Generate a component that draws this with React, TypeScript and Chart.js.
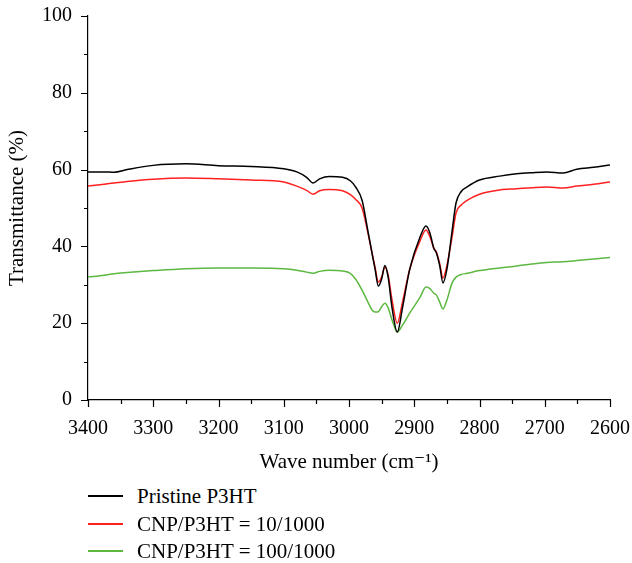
import React, { useEffect, useRef } from "react";
import { Chart, registerables } from "chart.js";

Chart.register(...registerables);

const wavenumbers = [3400, 3375, 3360, 3340, 3300, 3250, 3200, 3150, 3100, 3080, 3065, 3055, 3045, 3030, 3010, 2998, 2990, 2980, 2971, 2965, 2960, 2955, 2950, 2945, 2940, 2934, 2926, 2918, 2907, 2891, 2882, 2876, 2870, 2866, 2861, 2856, 2850, 2842, 2836, 2828, 2819, 2800, 2769, 2743, 2720, 2697, 2672, 2651, 2625, 2600];

const pristine = [59.4, 59.4, 59.3, 60.0, 61.1, 61.5, 61.0, 60.8, 60.2, 59.4, 58.0, 56.5, 57.6, 58.2, 58.0, 57.1, 55.5, 52.0, 44.0, 38.5, 34.0, 29.7, 31.5, 35.0, 32.0, 24.0, 17.7, 24.0, 34.0, 42.5, 45.3, 43.5, 39.5, 38.3, 35.0, 30.5, 34.0, 44.0, 51.3, 54.3, 55.5, 57.3, 58.3, 58.9, 59.2, 59.4, 59.1, 60.1, 60.6, 61.2];

const cnp10 = [55.7, 56.2, 56.5, 56.9, 57.5, 57.8, 57.6, 57.3, 56.8, 55.7, 54.6, 53.6, 54.5, 54.8, 54.5, 53.5, 52.3, 50.0, 43.5, 38.5, 34.5, 30.7, 32.0, 34.6, 32.5, 26.0, 20.0, 25.5, 34.0, 41.5, 44.3, 42.5, 39.5, 38.5, 35.5, 31.8, 35.0, 42.5, 48.7, 50.8, 52.0, 53.6, 54.7, 55.0, 55.3, 55.5, 55.2, 55.7, 56.2, 56.8];

const cnp100 = [32.0, 32.5, 32.9, 33.2, 33.7, 34.2, 34.4, 34.4, 34.2, 33.8, 33.3, 33.0, 33.5, 33.8, 33.6, 33.0, 31.5, 28.6, 25.5, 23.5, 22.9, 23.0, 24.3, 25.2, 24.0, 20.8, 17.7, 19.5, 22.6, 26.8, 29.4, 29.0, 27.8, 27.3, 25.5, 23.7, 26.0, 30.5, 32.0, 32.7, 33.0, 33.7, 34.4, 34.9, 35.4, 35.8, 36.0, 36.3, 36.7, 37.1];

const seriesLabels = ["Pristine P3HT", "CNP/P3HT = 10/1000", "CNP/P3HT = 100/1000"];
const seriesColors = ["#000000", "#ff2020", "#5cb840"];
const seriesValues = [pristine, cnp10, cnp100];

const FONT = "'Liberation Serif', 'DejaVu Serif', serif";

const tickPlugin = {
  id: "customTicks",
  afterDraw(chart: any) {
    const ctx = chart.ctx;
    const xs = chart.scales.x;
    const ys = chart.scales.y;
    const area = chart.chartArea;
    ctx.save();
    ctx.strokeStyle = "#000";
    ctx.lineWidth = 1.2;
    ctx.beginPath();
    for (let v = 0; v <= 100; v += 10) {
      const y = Math.round(ys.getPixelForValue(v)) + 0.5;
      const len = v % 20 === 0 ? 7 : 4;
      ctx.moveTo(area.left - len, y);
      ctx.lineTo(area.left, y);
    }
    for (let v = 2600; v <= 3400; v += 50) {
      const x = Math.round(xs.getPixelForValue(v)) + 0.5;
      const len = v % 100 === 0 ? 7 : 4;
      ctx.moveTo(x, area.bottom);
      ctx.lineTo(x, area.bottom + len);
    }
    ctx.stroke();
    ctx.restore();
  },
};

export default function App() {
  const ref = useRef<HTMLCanvasElement>(null);
  useEffect(() => {
    if (!ref.current) return;
    const chart = new Chart(ref.current, {
      type: "line",
      data: {
        datasets: seriesValues.map((vals, i) => ({
          label: seriesLabels[i],
          data: wavenumbers.map((w, j) => ({ x: w, y: vals[j] })),
          borderColor: seriesColors[i],
          borderWidth: 1.5,
          pointRadius: 0,
          fill: false,
          cubicInterpolationMode: "monotone" as const,
        })),
      },
      options: {
        animation: false,
        responsive: false,
        maintainAspectRatio: false,
        layout: { padding: { left: 0, right: 22, top: 16, bottom: 0 } },
        plugins: { legend: { display: false }, tooltip: { enabled: false } },
        scales: {
          x: {
            type: "linear",
            reverse: true,
            min: 2600,
            max: 3400,
            afterFit: (s: any) => {
              s.height = 80;
              s.paddingLeft = 0;
              s.paddingRight = 0;
            },
            grid: { display: false, drawTicks: false },
            border: { display: true, color: "#000", width: 1.2 },
            ticks: {
              stepSize: 100,
              padding: 17,
              color: "#000",
              font: { family: FONT, size: 20 },
              maxRotation: 0,
              callback: (v: any) => String(v),
            },
            title: {
              display: true,
              text: "Wave number (cm\u207B\u00B9)",
              color: "#000",
              font: { family: FONT, size: 21 },
              padding: { top: 4, bottom: 5 },
            },
          },
          y: {
            min: 0,
            max: 100,
            afterFit: (s: any) => {
              s.width = 88;
              s.paddingTop = 0;
              s.paddingBottom = 0;
            },
            grid: { display: false, drawTicks: false },
            border: { display: true, color: "#000", width: 1.2 },
            ticks: {
              stepSize: 20,
              padding: 16,
              color: "#000",
              font: { family: FONT, size: 20 },
              callback: (v: any) => String(v),
            },
            title: {
              display: true,
              text: "Transmittance (%)",
              color: "#000",
              font: { family: FONT, size: 21 },
              padding: { top: 5, bottom: 4 },
            },
          },
        },
      },
      plugins: [tickPlugin],
    });
    return () => chart.destroy();
  }, []);

  return (
    <div style={{ position: "fixed", left: 0, top: 0, width: 632, height: 563, background: "#fff" }}>
      <canvas ref={ref} width={632} height={480} style={{ position: "absolute", left: 0, top: 0 }} />
      {seriesLabels.map((lab, i) => (
        <div
          key={lab}
          style={{
            position: "absolute",
            left: 88,
            top: 482 + i * 27.5,
            height: 28,
            display: "flex",
            alignItems: "center",
            fontFamily: FONT,
            fontSize: 21,
            lineHeight: "28px",
            color: "#000",
            whiteSpace: "nowrap",
          }}
        >
          <span style={{ display: "inline-block", width: 35, height: 2, background: seriesColors[i], marginRight: 14 }} />
          <span>{lab}</span>
        </div>
      ))}
    </div>
  );
}
